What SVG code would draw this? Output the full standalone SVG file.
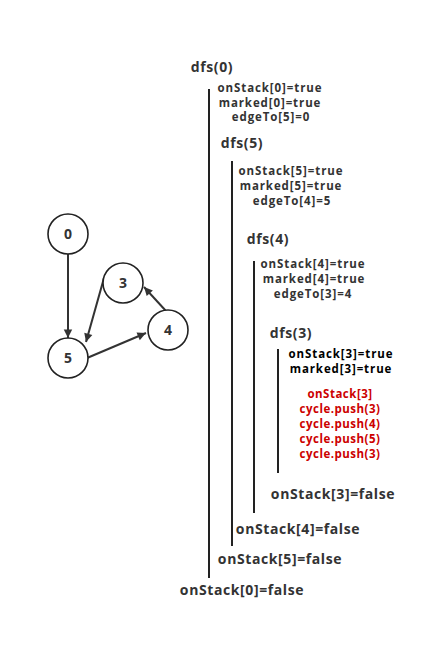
<svg xmlns="http://www.w3.org/2000/svg" width="436" height="653" viewBox="0 0 436 653">
<style>
.node circle{fill:#fff;stroke:#222;stroke-width:1.6}
.node text{font-family:"Open Sans","Noto Sans",sans-serif;font-weight:bold;font-size:14px;fill:#333;text-anchor:middle}
.t{font-family:"Open Sans","Noto Sans",sans-serif;font-weight:bold;font-size:11.5px;letter-spacing:0.9px;fill:#333;text-anchor:middle}
.h{font-size:14px;letter-spacing:0.6px}
.k{fill:#000}
.r{fill:#c00;letter-spacing:0.5px}
.bar{stroke:#222;stroke-width:2}
.edge{stroke:#333;stroke-width:2;fill:none;marker-end:url(#ah)}
</style>
<defs>
<marker id="ah" viewBox="0 0 10 10" refX="10" refY="5" markerWidth="6" markerHeight="6" orient="auto" markerUnits="userSpaceOnUse" overflow="visible">
<path d="M0,0 L10,5 L0,10 z" fill="#333" transform="scale(1.4) translate(-3,-1.4)"/>
</marker>
</defs>
<rect width="436" height="653" fill="#fff"/>
<g id="connectors">
<line class="edge" x1="68" y1="254" x2="68" y2="338"/>
<line class="edge" x1="104" y1="278" x2="86" y2="342"/>
<line class="edge" x1="87" y1="358" x2="146" y2="333"/>
<line class="edge" x1="166" y1="311" x2="144" y2="287"/>
</g>
<g id="n0" class="node"><circle cx="68" cy="234" r="20"/><text x="68" y="239">0</text></g>
<g id="n3" class="node"><circle cx="123" cy="283" r="20"/><text x="123" y="288">3</text></g>
<g id="n4" class="node"><circle cx="168" cy="330" r="20"/><text x="168" y="335">4</text></g>
<g id="n5" class="node"><circle cx="68" cy="358" r="20"/><text x="68" y="363">5</text></g>
<g id="trace">
<line class="bar" x1="209" y1="89" x2="209" y2="578"/>
<line class="bar" x1="232" y1="161" x2="232" y2="546"/>
<line class="bar" x1="254" y1="261" x2="254" y2="513"/>
<line class="bar" x1="278" y1="349" x2="278" y2="473"/>
<text class="t h" x="212" y="72">dfs(0)</text>
<text class="t" x="270" y="92">onStack[0]=true</text>
<text class="t" x="270" y="107">marked[0]=true</text>
<text class="t" x="271" y="121">edgeTo[5]=0</text>
<text class="t h" x="242" y="148">dfs(5)</text>
<text class="t" x="291" y="175">onStack[5]=true</text>
<text class="t" x="291" y="190">marked[5]=true</text>
<text class="t" x="292" y="205">edgeTo[4]=5</text>
<text class="t h" x="268" y="244">dfs(4)</text>
<text class="t" x="313" y="268">onStack[4]=true</text>
<text class="t" x="314" y="283">marked[4]=true</text>
<text class="t" x="313" y="298">edgeTo[3]=4</text>
<text class="t h" x="291" y="338">dfs(3)</text>
<text class="t k" x="341" y="358">onStack[3]=true</text>
<text class="t k" x="341" y="373">marked[3]=true</text>
<text class="t r" x="340" y="398">onStack[3]</text>
<text class="t r" x="340" y="413">cycle.push(3)</text>
<text class="t r" x="340" y="428">cycle.push(4)</text>
<text class="t r" x="340" y="443">cycle.push(5)</text>
<text class="t r" x="340" y="458">cycle.push(3)</text>
<text class="t h" x="333" y="499">onStack[3]=false</text>
<text class="t h" x="298" y="534">onStack[4]=false</text>
<text class="t h" x="280" y="564">onStack[5]=false</text>
<text class="t h" x="242" y="595">onStack[0]=false</text>
</g>
</svg>
